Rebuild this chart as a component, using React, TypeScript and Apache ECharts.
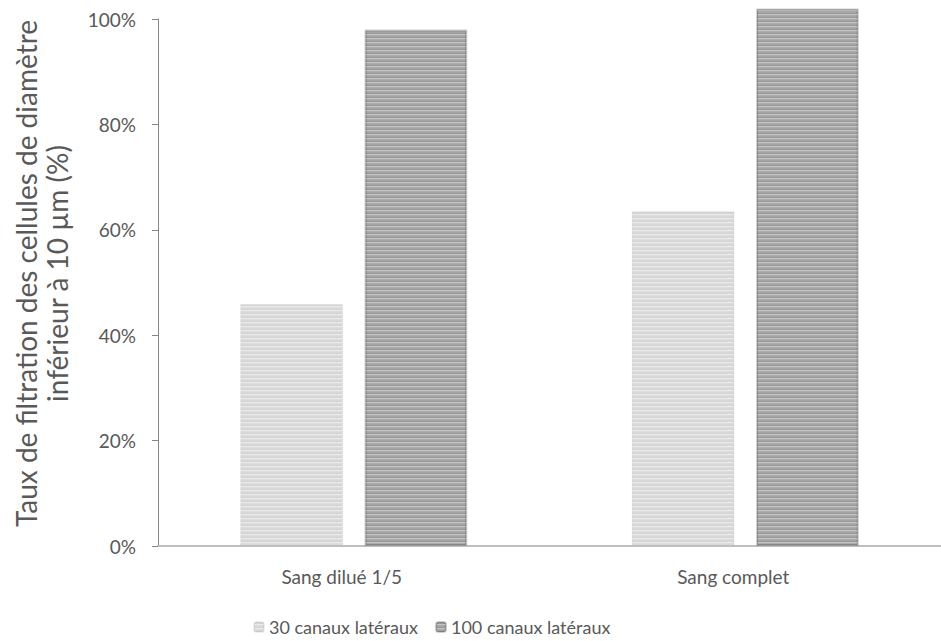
import React, { useEffect, useRef } from "react";
import * as echarts from "echarts";

const categories = ["Sang dilué 1/5", "Sang complet"];
const seriesNames = ["30 canaux latéraux", "100 canaux latéraux"];
const values30 = [0.459, 0.635];
const values100 = [0.98, 1.02];
const yTicks = [0, 0.2, 0.4, 0.6, 0.8, 1.0];
const yTitle = "Taux de filtration des cellules de diamètre\ninférieur à 10 µm (%)";

function makeStripes(rows: string[]): HTMLCanvasElement {
  const c = document.createElement("canvas");
  c.width = 4;
  c.height = rows.length;
  const ctx = c.getContext("2d")!;
  rows.forEach((col, i) => {
    ctx.fillStyle = col;
    ctx.fillRect(0, i, 4, 1);
  });
  return c;
}

export default function App() {
  const ref = useRef<HTMLDivElement>(null);
  useEffect(() => {
    if (!ref.current) return;
    const chart = echarts.init(ref.current, null, { renderer: "svg" });
    const lightPat = makeStripes(["#d9d9d9", "#d4d4d4", "#ebebeb", "#dcdcdc"]);
    const darkPat = makeStripes(["#a4a4a4", "#999999", "#c3c3c3", "#ababab"]);
    const font = "Lato, 'Open Sans', sans-serif";
    const textColor = "#595959";
    chart.setOption({
      animation: false,
      textStyle: { fontFamily: font },
      grid: { left: 158, top: 19, width: 798, height: 527, containLabel: false },
      legend: {
        left: 248,
        top: 613,
        itemWidth: 10,
        itemHeight: 10,
        itemGap: 17,
        textStyle: { fontSize: 18, color: textColor, fontFamily: font },
        data: seriesNames,
      },
      xAxis: {
        type: "category",
        data: categories,
        axisLine: { show: true, lineStyle: { color: "#bfbfbf", width: 2 } },
        axisTick: { show: false },
        axisLabel: {
          fontSize: 19,
          color: textColor,
          margin: 21,
          fontFamily: font,
          padding: [0, 24, 0, 0],
        },
      },
      yAxis: {
        type: "value",
        min: 0,
        max: 1,
        interval: 0.2,
        name: yTitle,
        nameLocation: "middle",
        nameRotate: 90,
        nameGap: 86,
        nameTextStyle: {
          fontSize: 28,
          color: textColor,
          lineHeight: 31,
          fontFamily: font,
          padding: [0, 0, 0, 18],
        },
        splitLine: { show: false },
        axisLine: { show: true, lineStyle: { color: "#868686", width: 1 } },
        axisTick: { show: true, inside: false, length: 6, lineStyle: { color: "#868686" } },
        axisLabel: {
          fontSize: 19,
          color: textColor,
          margin: 22,
          fontFamily: font,
          formatter: (v: number) => (yTicks.some((t) => Math.abs(t - v) < 1e-9) ? Math.round(v * 100) + "%" : ""),
        },
      },
      series: [
        {
          name: seriesNames[0],
          type: "bar",
          data: values30,
          clip: false,
          barGap: "21%",
          barCategoryGap: "42%",
          itemStyle: {
            color: { image: lightPat, repeat: "repeat" },
            borderColor: "rgba(0,0,0,0.06)",
            borderWidth: 1,
          },
        },
        {
          name: seriesNames[1],
          type: "bar",
          data: values100,
          clip: false,
          barGap: "21%",
          barCategoryGap: "42%",
          itemStyle: {
            color: { image: darkPat, repeat: "repeat" },
            borderColor: "rgba(0,0,0,0.18)",
            borderWidth: 2,
          },
        },
      ],
    });
    return () => chart.dispose();
  }, []);
  return (
    <div
      ref={ref}
      style={{ position: "absolute", left: 0, top: 0, width: 941, height: 641, background: "#fff" }}
    />
  );
}
